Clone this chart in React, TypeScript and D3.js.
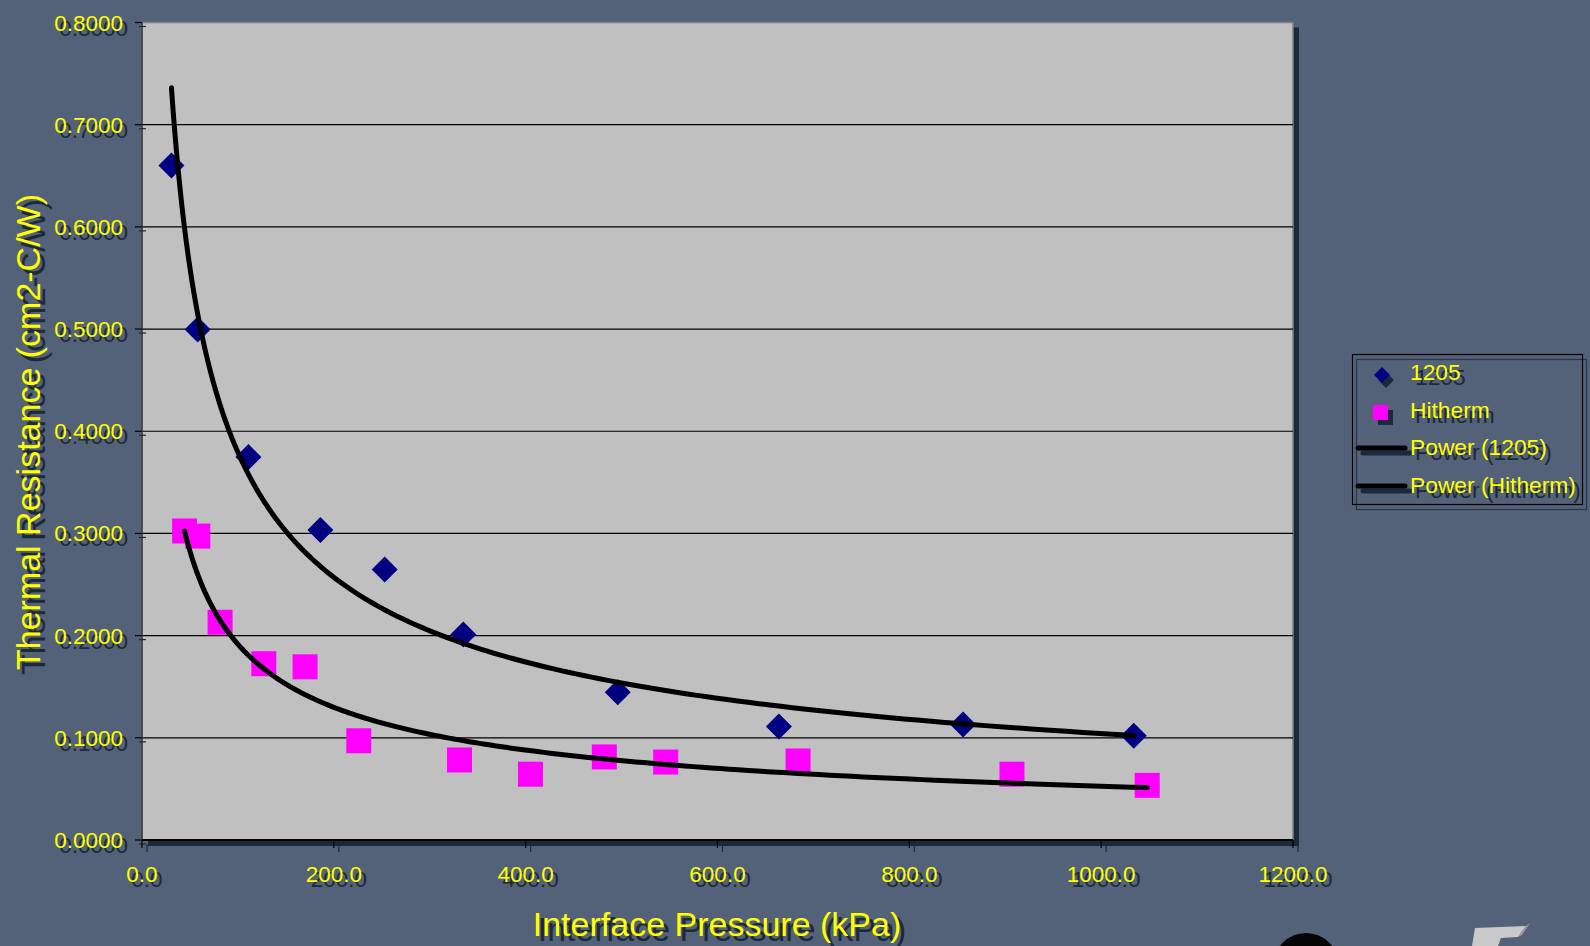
import React from "react";
import * as d3 from "d3";

const X_TICKS = [0, 200, 400, 600, 800, 1000, 1200];
const Y_TICKS = [0, 0.1, 0.2, 0.3, 0.4, 0.5, 0.6, 0.7, 0.8];

const P1205_X = [30.7, 58, 111, 186, 253, 335, 496, 664, 856, 1034];
const P1205_Y = [0.66, 0.4996, 0.3747, 0.3033, 0.2647, 0.2012, 0.1447, 0.111, 0.113, 0.1021];

const HIT_X = [44.4, 58.2, 81.4, 127, 170, 226, 331, 405, 482, 546, 684, 907, 1048];
const HIT_Y = [0.3024, 0.2974, 0.2131, 0.1725, 0.1695, 0.0971, 0.0783, 0.0644, 0.0813, 0.0763, 0.0773, 0.0644, 0.0535];

const LEGEND = ["1205", "Hitherm", "Power (1205)", "Power (Hitherm)"];

const W = 1590;
const H = 946;
const PL = 142, PR = 1293, PT = 22.5, PB = 840;
const BG = "#536279";
const SH = "#1c2938";
const YEL = "#ffff00";
const FONT = "'Liberation Sans', Arial, sans-serif";

function powerFit(xs: number[], ys: number[]) {
  const lx = xs.map(Math.log);
  const ly = ys.map(Math.log);
  const mx = d3.mean(lx)!;
  const my = d3.mean(ly)!;
  let sxy = 0, sxx = 0;
  for (let i = 0; i < lx.length; i++) {
    sxy += (lx[i] - mx) * (ly[i] - my);
    sxx += (lx[i] - mx) * (lx[i] - mx);
  }
  const b = sxy / sxx;
  const a = Math.exp(my - b * mx);
  return (x: number) => a * Math.pow(x, b);
}

function ShText(props: any) {
  const { x, y, children, off = 5, ...rest } = props;
  return (
    <g>
      <text x={x + off} y={y + off} fill={SH} {...rest}>{children}</text>
      <text x={x} y={y} fill={YEL} {...rest}>{children}</text>
    </g>
  );
}

export default function App() {
  const xs = d3.scaleLinear().domain([0, 1200]).range([PL, PR]);
  const ys = d3.scaleLinear().domain([0, 0.8]).range([PB, PT]);

  const trend = (xArr: number[], yArr: number[]) => {
    const f = powerFit(xArr, yArr);
    const x0 = d3.min(xArr)!, x1 = d3.max(xArr)!;
    const pts: [number, number][] = [];
    const n = 200;
    for (let i = 0; i <= n; i++) {
      const t = i / n;
      const x = Math.exp(Math.log(x0) + t * (Math.log(x1) - Math.log(x0)));
      pts.push([x, f(x)]);
    }
    return d3.line<[number, number]>().x((d) => xs(d[0])).y((d) => ys(d[1]))(pts)!;
  };

  const diamond = (cx: number, cy: number, r: number) =>
    `M${cx},${cy - r}L${cx + r},${cy}L${cx},${cy + r}L${cx - r},${cy}Z`;

  const fmtY = d3.format(".4f");
  const fmtX = d3.format(".1f");

  const legY = [375, 412, 448, 486];
  const legTextY = [380, 418, 455, 493];

  const t1 = trend(P1205_X, P1205_Y);
  const t2 = trend(HIT_X, HIT_Y);

  return (
    <svg width={W} height={H} style={{ position: "fixed", left: 0, top: 0, display: "block" }} fontFamily={FONT}>
      <rect x={0} y={0} width={W} height={H} fill={BG} />

      {/* plot shadow */}
      <rect x={PL + 6} y={PT + 5} width={PR - PL} height={PB - PT + 1} fill={SH} />
      {/* plot area */}
      <rect x={PL} y={PT} width={PR - PL} height={PB - PT} fill="#c0c0c0" stroke="#808080" strokeWidth={1.5} />

      {/* gridlines */}
      {Y_TICKS.filter((v) => v > 0 && v < 0.8).map((v) => (
        <line key={"g" + v} x1={PL} x2={PR} y1={ys(v)} y2={ys(v)} stroke="#000" strokeWidth={1.2} />
      ))}

      {/* axes lines */}
      <line x1={PL} x2={PL} y1={PT} y2={PB} stroke="#3a3a3a" strokeWidth={1.5} />
      <line x1={PL} x2={PR} y1={PB} y2={PB} stroke="#000" strokeWidth={2} />

      {/* y ticks */}
      {Y_TICKS.map((v) => (
        <g key={"yt" + v}>
          <line x1={PL - 3} x2={PL + 4} y1={ys(v) + 4} y2={ys(v) + 4} stroke={SH} strokeWidth={1.2} />
          <line x1={PL - 7} x2={PL} y1={ys(v)} y2={ys(v)} stroke="#000" strokeWidth={1.2} />
        </g>
      ))}
      {/* x ticks */}
      {X_TICKS.map((v) => (
        <g key={"xt" + v}>
          <line x1={xs(v) + 5} x2={xs(v) + 5} y1={PB + 4} y2={PB + 12} stroke={SH} strokeWidth={1.2} />
          <line x1={xs(v)} x2={xs(v)} y1={PB} y2={PB + 8} stroke="#000" strokeWidth={1.2} />
        </g>
      ))}

      {/* tick labels */}
      {Y_TICKS.map((v) => (
        <ShText key={"yl" + v} x={123} y={ys(v) + 8} fontSize={22.5} textAnchor="end" off={5}>
          {fmtY(v)}
        </ShText>
      ))}
      {X_TICKS.map((v) => (
        <ShText key={"xl" + v} x={xs(v)} y={882} fontSize={22.5} textAnchor="middle" off={5}>
          {fmtX(v)}
        </ShText>
      ))}

      {/* markers */}
      {P1205_X.map((x, i) => (
        <path key={"d" + i} d={diamond(xs(x), ys(P1205_Y[i]), 13)} fill="#000080" />
      ))}
      {HIT_X.map((x, i) => (
        <rect key={"s" + i} x={xs(x) - 12.5} y={ys(HIT_Y[i]) - 12.5} width={25} height={25} fill="#ff00ff" />
      ))}

      {/* trendlines */}
      <path d={t1} fill="none" stroke="#000" strokeWidth={5} strokeLinejoin="round" strokeLinecap="round" />
      <path d={t2} fill="none" stroke="#000" strokeWidth={5} strokeLinejoin="round" strokeLinecap="round" />

      {/* axis titles */}
      <text x={717 + 5} y={936 + 5} fontSize={34} textAnchor="middle" fill={SH}>Interface Pressure (kPa)</text>
      <text x={717} y={936} fontSize={34} textAnchor="middle" fill={YEL}>Interface Pressure (kPa)</text>
      <text transform="translate(45,437) rotate(-90)" fontSize={34} textAnchor="middle" fill={SH}>Thermal Resistance (cm2-C/W)</text>
      <text transform="translate(40,432) rotate(-90)" fontSize={34} textAnchor="middle" fill={YEL}>Thermal Resistance (cm2-C/W)</text>

      {/* legend */}
      <rect x={1356.5} y={359.5} width={230} height={150} fill="none" stroke="#2a3444" strokeWidth={1.2} />
      <rect x={1352.5} y={354.5} width={230} height={150} fill="none" stroke="#000" strokeWidth={1.2} />
      <path d={diamond(1386, 380, 8)} fill={SH} />
      <path d={diamond(1382, 375, 8)} fill="#000080" />
      <rect x={1378} y={410} width={15} height={15} fill={SH} />
      <rect x={1373} y={405} width={15} height={15} fill="#ff00ff" />
      {[2, 3].map((k) => (
        <g key={"ll" + k}>
          <line x1={1363} x2={1410} y1={legY[k] + 5} y2={legY[k] + 5} stroke={SH} strokeWidth={5} strokeLinecap="round" />
          <line x1={1358} x2={1405} y1={legY[k]} y2={legY[k]} stroke="#000" strokeWidth={5} strokeLinecap="round" />
        </g>
      ))}
      {LEGEND.map((t, k) => (
        <ShText key={"lt" + k} x={1410} y={legTextY[k]} fontSize={22.8} off={5}>
          {t}
        </ShText>
      ))}

      {/* logo fragments at bottom right */}
      <circle cx={1306} cy={966} r={33} fill="#050505" />
      <path d="M1475,928 L1526,926 L1518,937 L1501,938 L1498,946 L1472,946 Z" fill="#c9c9c9" />
      <path d="M1526,926 L1530,923 L1522,935 L1518,937 Z" fill="#9a9a9a" />
    </svg>
  );
}
